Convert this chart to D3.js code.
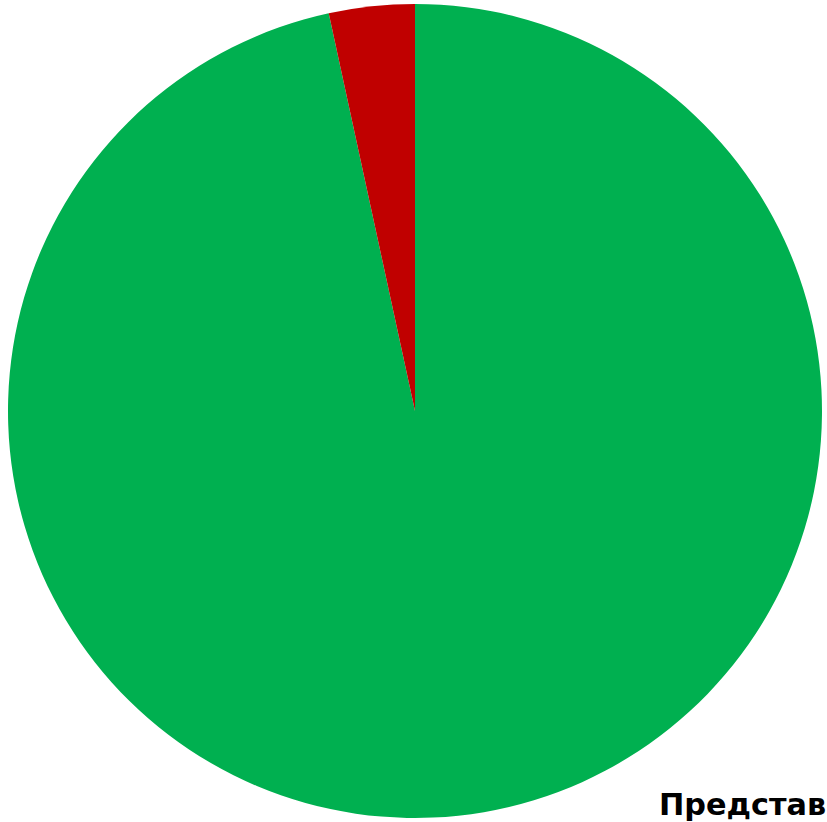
<!DOCTYPE html>
<html><head><meta charset="utf-8">
<script src="https://cdn.jsdelivr.net/npm/d3@7"></script>
<style>html,body{margin:0;padding:0;background:#fff;overflow:hidden}</style>
</head><body>
<svg id="chart" width="827" height="822"></svg>
<script>
const categories = ["Да", "Нет"];
const values = [96.6, 3.4];
const colors = ["#00B050", "#C00000"];
const titleText = "Представ";

const svg = d3.select("#chart");
const cx = 415, cy = 411, r = 407;
const pie = d3.pie().sort(null).value(d => d.v)
  .startAngle(0).endAngle(2 * Math.PI);
const data = categories.map((c, i) => ({c, v: values[i], col: colors[i]}));
const arc = d3.arc().innerRadius(0).outerRadius(r);
const g = svg.append("g").attr("transform", `translate(${cx},${cy})`);
g.selectAll("path").data(pie(data)).join("path")
  .attr("d", arc).attr("fill", d => d.data.col);

svg.append("text").attr("x", 659).attr("y", 815)
  .attr("font-family", "'DejaVu Sans', sans-serif")
  .attr("font-weight", "bold").attr("font-size", 30.3)
  .attr("fill", "#000").text(titleText);
</script>
</body></html>
